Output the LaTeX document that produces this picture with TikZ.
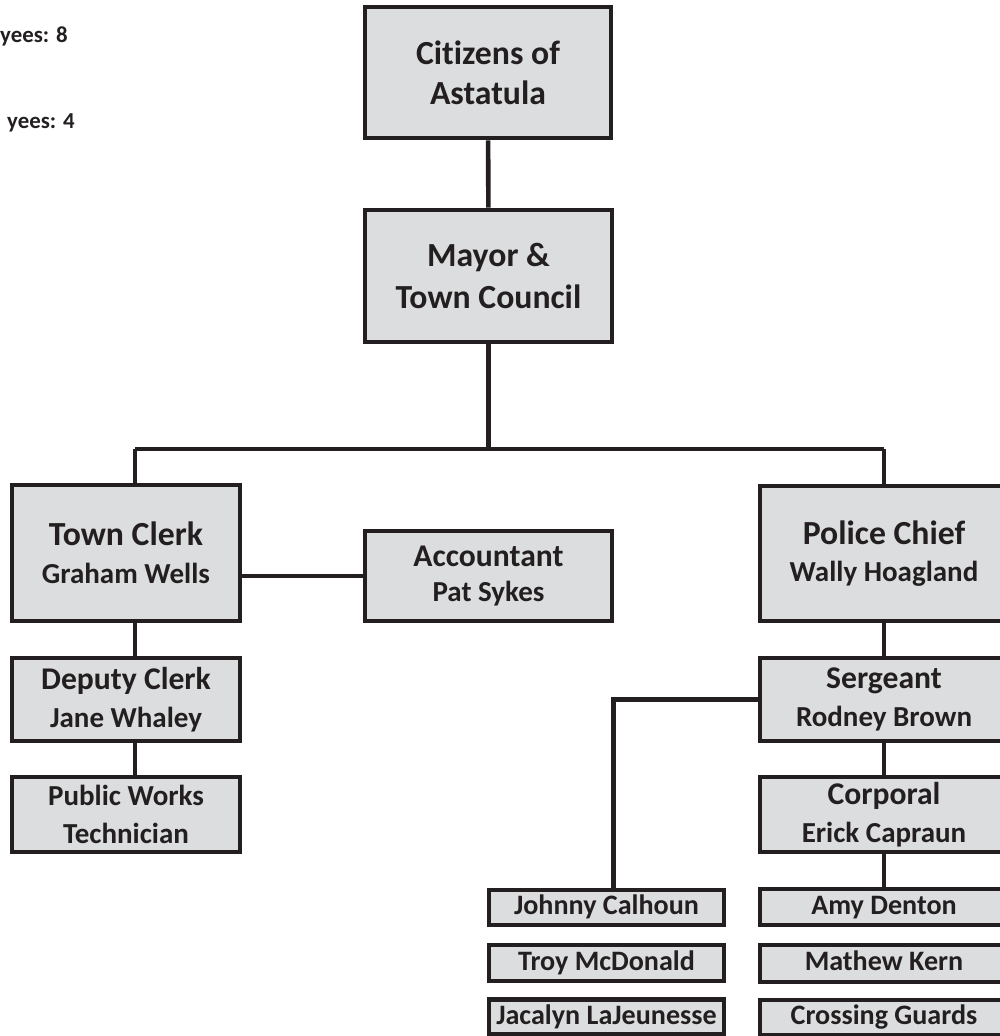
\documentclass[tikz,border=0pt]{standalone}
\usepackage{fontspec}
\setmainfont{Carlito}[Ligatures=NoCommon]
\usepackage{tikz}
\usetikzlibrary{calc}
\definecolor{inkc}{HTML}{231F20}
\definecolor{boxc}{HTML}{DCDDDE}
\def\namefont{\fontsize{16.5}{21.5}\selectfont}
\tikzset{
	box/.style={draw=inkc, fill=boxc, line width=2.6pt, inner sep=0pt, align=center, text=inkc,
		font=\fontsize{19.2}{21.5}\selectfont\bfseries},
	midbox/.style={box, font=\fontsize{18}{21.5}\selectfont\bfseries},
	namebox/.style={box, font=\fontsize{16}{19}\selectfont\bfseries, text height=11.5pt, text depth=3pt},
	link/.style={draw=inkc, line width=2.6pt},
}
\begin{document}
\begin{tikzpicture}[x=0.02cm, y=-0.02cm]
			%%%%% START %%%%%
			\useasboundingbox (0, 0) rectangle (1000, 1036);
			\clip (0, 0) rectangle (1000, 1036);
			
			\node[anchor=base west, text=inkc, font=\fontsize{13}{15}\selectfont\bfseries] (fulltime) at (-6, 42) {yees: 8};
			\node[anchor=base west, text=inkc, font=\fontsize{13}{15}\selectfont\bfseries] (parttime) at (1, 128) {yees: 4};
			
			\node[box, font=\fontsize{19.2}{22.7}\selectfont\bfseries, minimum width=4.92cm, minimum height=2.62cm] (citizens) at (488, 72.5) {Citizens of\\Astatula};
			\node[box, font=\fontsize{19.2}{23.8}\selectfont\bfseries, minimum width=4.94cm, minimum height=2.64cm] (mayor) at (488.5, 276) {Mayor \&\\Town Council};
			
			\node[box, minimum width=4.56cm, minimum height=2.72cm] (clerk) at (126, 553) {Town Clerk\\{\namefont Graham Wells}};
			\node[midbox, minimum width=4.56cm, minimum height=1.66cm] (deputy) at (126, 699.5) {Deputy Clerk\\{\namefont Jane Whaley}};
			\node[box, font=\fontsize{16.5}{22}\selectfont\bfseries, minimum width=4.56cm, minimum height=1.50cm] (pubworks) at (126, 814.5) {Public Works\\Technician};
			\node[midbox, font=\fontsize{18}{20.4}\selectfont\bfseries, minimum width=4.94cm, minimum height=1.80cm] (accountant) at (488.5, 576) {Accountant\\{\namefont Pat Sykes}};
			
			\node[box, minimum width=4.96cm, minimum height=2.70cm] (chief) at (884, 553.5) {Police Chief\\{\namefont Wally Hoagland}};
			\node[midbox, minimum width=4.96cm, minimum height=1.66cm] (sergeant) at (884, 699.5) {Sergeant\\{\namefont Rodney Brown}};
			\node[midbox, minimum width=4.96cm, minimum height=1.50cm] (corporal) at (884, 814.5) {Corporal\\{\namefont Erick Capraun}};
			
			\node[namebox, minimum width=4.70cm, minimum height=0.70cm] (johnny) at (606.5, 907.5) {Johnny Calhoun};
			\node[namebox, minimum width=4.70cm, minimum height=0.72cm] (troy) at (606.5, 963) {Troy McDonald};
			\node[namebox, minimum width=4.70cm, minimum height=0.70cm] (jacalyn) at (606.5, 1017) {Jacalyn LaJeunesse};
			\node[namebox, minimum width=4.96cm, minimum height=0.72cm] (amy) at (884, 907) {Amy Denton};
			\node[namebox, minimum width=4.96cm, minimum height=0.74cm] (mathew) at (884, 963.5) {Mathew Kern};
			\node[namebox, minimum width=4.96cm, minimum height=0.70cm] (guards) at (884, 1017.5) {Crossing Guards};
			
			% lines
			\coordinate (busleft) at (135, 449);
			\coordinate (busright) at (884, 449);
			\draw[link] (citizens) -- (mayor);
			\draw[link] (mayor) -- (mayor |- busleft);
			\draw[link] (busleft) -- (busright);
			\draw[link] (busleft) -- (busleft |- clerk.north);
			\draw[link] (busright) -- (chief);
			\draw[link] (clerk.east |- accountant.west) -- (accountant.west);
			\draw[link] (clerk.south -| busleft) -- (deputy.north -| busleft);
			\draw[link] (deputy.south -| busleft) -- (pubworks.north -| busleft);
			\draw[link] (chief) -- (sergeant);
			\draw[link] (sergeant) -- (corporal);
			\draw[link] (corporal) -- (amy);
			\draw[link] (sergeant.west) -| ($(johnny.north)+(7, 0)$);
			
			%%%%% END %%%%%
\end{tikzpicture}
\end{document}
